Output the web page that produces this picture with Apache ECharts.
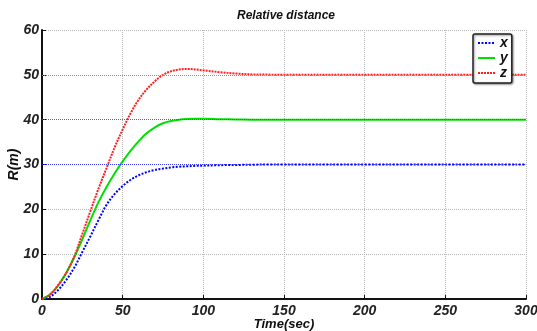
<!DOCTYPE html>
<html><head><meta charset="utf-8">
<script src="https://cdn.jsdelivr.net/npm/echarts@6/dist/echarts.min.js"></script>
<style>html,body{margin:0;padding:0;background:#fff}#c{width:537px;height:331px}</style>
</head><body><div id="c"></div>
<script>
const titleText = 'Relative distance';
const xName = 'Time(sec)';
const yName = 'R(m)';
const seriesNames = ['x', 'y', 'z'];
const refValues = [30, 40, 50];
const times = [0,5,10,15,20,25,30,35,40,45,50,55,60,65,70,75,80,85,90,95,100,110,120,130,140,150,200,250,300];
const xValues = [0,0.5,2.0,4.2,7.0,10.5,14.0,17.6,21.0,23.4,25.2,26.6,27.6,28.3,28.8,29.1,29.35,29.5,29.6,29.7,29.75,29.85,29.9,29.95,30,30,30,30,30];
const yValues = [0,1.0,3.0,5.8,9.3,13.3,17.6,21.6,25.0,28.0,30.7,33.1,35.2,37.0,38.3,39.2,39.7,40.0,40.15,40.2,40.2,40.1,40.05,40,40,40,40,40,40];
const zValues = [0,1.0,3.1,5.8,9.5,14.5,19.6,24.6,29.2,33.8,37.8,41.5,44.5,46.8,48.6,50.0,50.8,51.2,51.3,51.2,51.0,50.6,50.3,50.1,50.05,50,50,50,50];

const font = {fontFamily:'Liberation Sans', fontWeight:'bold', fontStyle:'italic', color:'#222'};
const pairs = v => times.map((t,i)=>[t,v[i]]);
const colors = ['#0000ff','#00e000','#ff2020'];
const refColors = ['#3030ff','#308030','#ff6060'];
const types = [[2,1.5],'solid',[2,1]];
const all = [xValues,yValues,zValues];

const chart = echarts.init(document.getElementById('c'));
chart.setOption({
  animation:false,
  title:{text:titleText,left:281,top:5,textAlign:'center',textStyle:Object.assign({},font,{fontSize:12,color:'#111'})},
  grid:{left:42,right:11,top:30,bottom:32,outerBoundsMode:'none',containLabel:false},
  legend:{orient:'vertical',left:473,top:34,z:20,zlevel:0,itemWidth:17,itemHeight:10,itemGap:1,padding:[2,4,3,4],
    backgroundColor:'#fff',borderColor:'#222',borderWidth:1.5,borderRadius:2,
    shadowColor:'rgba(0,0,0,0.4)',shadowBlur:2,shadowOffsetX:1,shadowOffsetY:1,
    itemStyle:{opacity:0},
    data:seriesNames,
    textStyle:Object.assign({},font,{fontSize:14,color:'#111'})},
  xAxis:{type:'value',min:0,max:300,interval:50,name:xName,nameLocation:'middle',nameGap:19,nameMoveOverlap:false,
    nameTextStyle:Object.assign({},font,{fontSize:13,color:'#111'}),
    axisLine:{onZero:false,lineStyle:{color:'#111',width:2}},
    axisTick:{inside:true,length:4,lineStyle:{color:'#111',width:1}},
    axisLabel:Object.assign({},font,{fontSize:14,margin:5}),
    splitLine:{show:true,lineStyle:{color:'#b8b8b8',type:[1,1],width:1}}},
  yAxis:{type:'value',min:0,max:60,interval:10,name:yName,nameLocation:'middle',nameGap:21,nameMoveOverlap:false,
    nameTextStyle:Object.assign({},font,{fontSize:14,color:'#111'}),
    axisLine:{show:true,onZero:false,lineStyle:{color:'#111',width:2}},
    axisTick:{show:true,inside:true,length:4,lineStyle:{color:'#111',width:1}},
    axisLabel:Object.assign({},font,{fontSize:14,margin:3}),
    splitLine:{show:true,lineStyle:{color:'#b8b8b8',type:[1,1],width:1}}},
  series:seriesNames.map((n,i)=>({
    name:n,type:'line',data:pairs(all[i]),smooth:0.35,showSymbol:false,symbol:'none',
    color:colors[i],
    lineStyle:{color:colors[i],width:2,type:types[i]},
    markLine:{silent:true,symbol:'none',label:{show:false},
      lineStyle:{color:refColors[i],width:1,type:[1,1],opacity:0.9},
      data:[{yAxis:refValues[i]}]},
    z:2
  }))
});
</script></body></html>
